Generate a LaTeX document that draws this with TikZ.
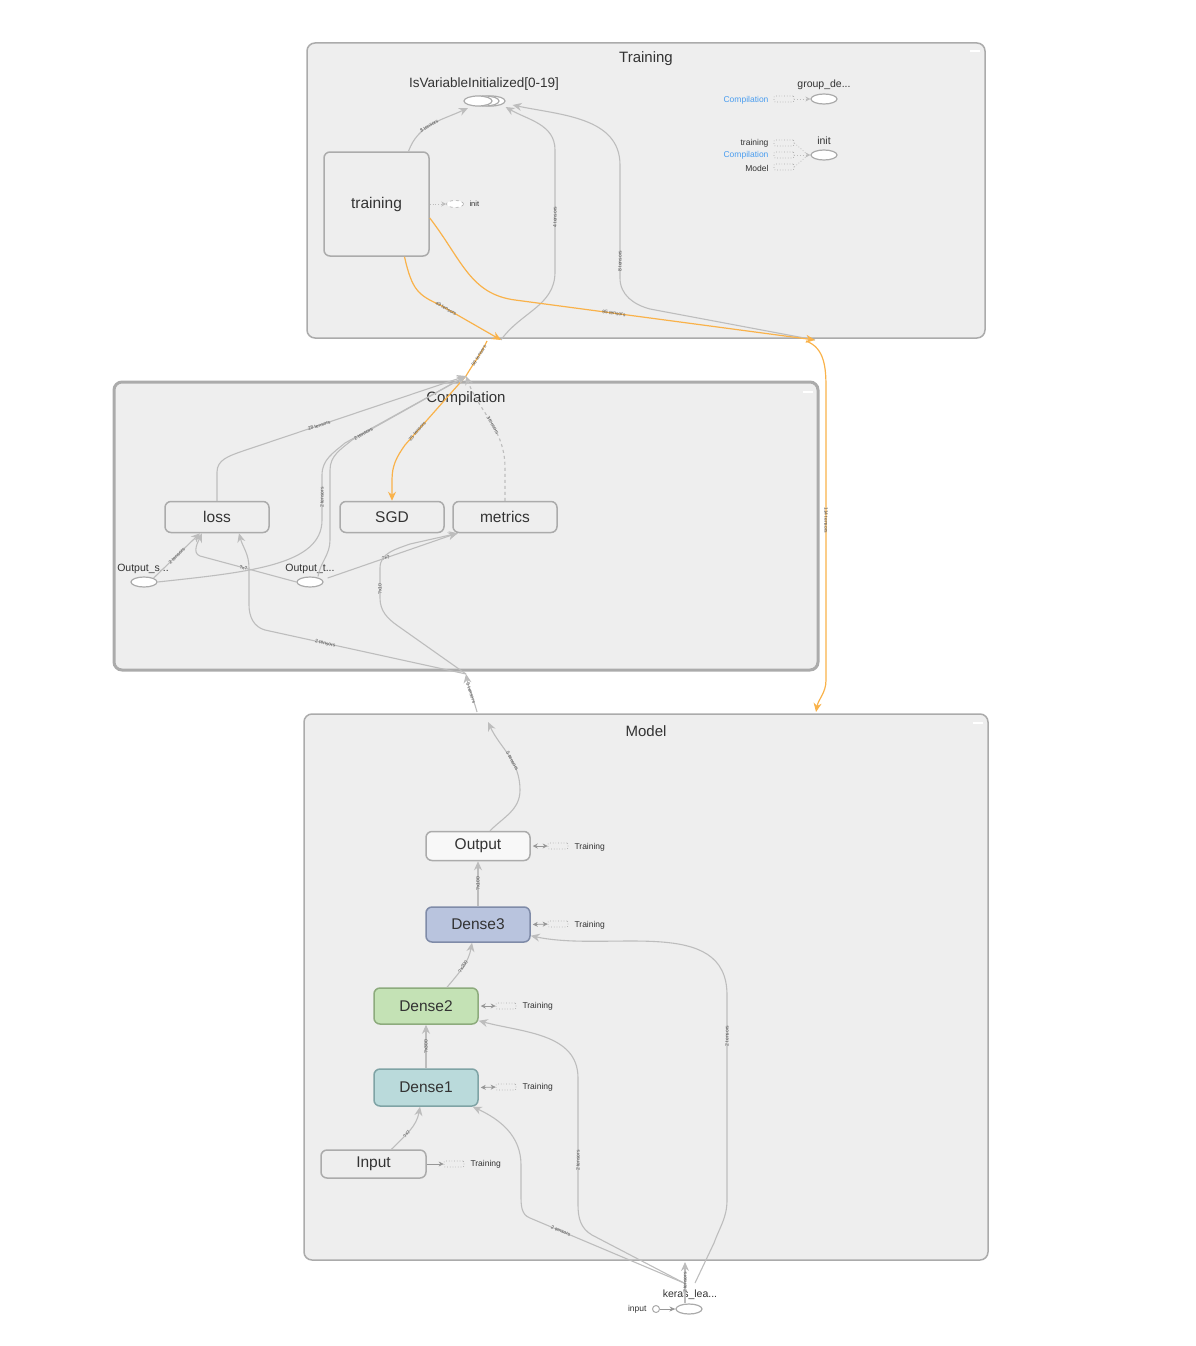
\documentclass[tikz,border=0pt]{standalone}
\usepackage{fontspec}
\setmainfont{Liberation Sans}
\usetikzlibrary{arrows.meta,shapes.geometric}

\definecolor{fondo}{HTML}{EEEEEE}
\definecolor{borde}{HTML}{ABABAB}
\definecolor{gris}{HTML}{BDBDBD}
\definecolor{naranja}{HTML}{F9B24A}
\definecolor{azulref}{HTML}{4A9DEF}
\definecolor{texto}{HTML}{333333}
\definecolor{dtres}{HTML}{B9C4DE}
\definecolor{dtresB}{HTML}{7F8BA8}
\definecolor{ddos}{HTML}{C4E2B5}
\definecolor{ddosB}{HTML}{8DAB7D}
\definecolor{duno}{HTML}{BADADB}
\definecolor{dunoB}{HTML}{7FA3A5}

\tikzset{
  grupo/.style={draw=borde, fill=fondo, line width=1.5pt, rounded corners=8pt},
  titulo/.style={font=\fontsize{15}{18}\selectfont, text=texto},
  capa/.style={draw=borde, fill=fondo, line width=1.5pt, rounded corners=6pt,
    minimum width=104pt, minimum height=31pt, inner sep=0pt,
    font=\fontsize{15.5}{18}\selectfont, text=texto},
  op/.style={ellipse, draw=borde, fill=white, line width=1.2pt,
    minimum width=26pt, minimum height=10pt, inner sep=0pt},
  refbox/.style={draw=borde, dotted, line width=0.7pt, rounded corners=1pt,
    minimum width=20pt, minimum height=6pt, inner sep=0pt},
  arista/.style={draw=gris, line width=1.1pt},
  flecha/.style={arista, -{Stealth[length=9pt,width=8pt]}},
  flechaN/.style={draw=naranja, line width=1.2pt, -{Stealth[length=9pt,width=8pt]}},
  flechaR/.style={draw=gris!80!black, line width=0.8pt, {Stealth[length=5pt,width=5pt]}-{Stealth[length=5pt,width=5pt]}},
  punteada/.style={draw=gris, line width=0.8pt, dotted, -{Stealth[length=5pt,width=5pt]}},
  etiq/.style={font=\fontsize{5}{6}\selectfont, text=texto!85, inner sep=0.3pt},
  chico/.style={font=\fontsize{8.5}{10}\selectfont, text=texto},
  nombre/.style={font=\fontsize{10.5}{12}\selectfont, text=texto},
}

\begin{document}
\begin{tikzpicture}[x=1pt,y=-1pt]

    \useasboundingbox (0,0) rectangle (1196,1346);

    % Grupo Training
    \draw[grupo] (307,43) rectangle (985,338);
    \node[titulo] (tTraining) at (646,59) {Training};
    \draw[white, line width=1.5pt] (970,51) -- (980,51);

    \node[capa, minimum width=105pt, minimum height=104pt] (training) at (376.5,204) {training};
    \node[font=\fontsize{13.5}{16}\selectfont, text=texto] (tVar) at (484,84) {IsVariableInitialized[0-19]};
    \node[op, minimum width=28pt] (var3) at (491,101) {};
    \node[op, minimum width=28pt] (var2) at (485,101) {};
    \node[op, minimum width=28pt] (var) at (478,101) {};

    % init punteado
    \node[op, dashed, fill=white, line width=0.6pt, minimum width=17pt, minimum height=7pt] (initA) at (455,204) {};
    \node[font=\fontsize{7.5}{9}\selectfont, text=texto, anchor=west] (tInitA) at (466,204) {init};
    \draw[punteada] (training.east) -- (initA.west);

    % group_de...
    \node[op] (grupoDe) at (824,99) {};
    \node[nombre] (tGrupoDe) at (824,85) {group\_de...};
    \node[refbox] (refC1) at (784,99) {};
    \node[chico, text=azulref, anchor=east] (tC1) at (772,100) {Compilation};
    \draw[punteada] (refC1.east) -- (grupoDe.west);

    % init
    \node[op] (initB) at (824,155) {};
    \node[nombre] (tInitB) at (824,141) {init};
    \node[refbox] (refT) at (784,143) {};
    \node[refbox] (refC2) at (784,155) {};
    \node[refbox] (refM) at (784,167) {};
    \node[chico, anchor=east] (tT) at (772,143) {training};
    \node[chico, text=azulref, anchor=east] (tC2) at (772,155) {Compilation};
    \node[chico, anchor=east] (tM) at (772,168) {Model};
    \coordinate (jInit) at (808,155);
    \draw[gris, line width=0.8pt, dotted] (refT.east) -- (jInit);
    \draw[gris, line width=0.8pt, dotted] (refM.east) -- (jInit);
    \draw[punteada] (refC2.east) -- (initB.west);

    % Grupo Compilation
    \draw[grupo, line width=3pt] (114,382) rectangle (818,670);
    \node[titulo] (tCompilation) at (466,399) {Compilation};
    \draw[white, line width=1.5pt] (803,392) -- (813,392);

    \node[capa] (loss) at (217,517) {loss};
    \node[capa] (sgd) at (392,517) {SGD};
    \node[capa] (metrics) at (505,517) {metrics};
    \node[op] (outS) at (144,582) {};
    \node[nombre] (tOutS) at (143,569) {Output\_s...};
    \node[op] (outT) at (310,582) {};
    \node[nombre] (tOutT) at (310,569) {Output\_t...};

    % Grupo Model
    \draw[grupo] (304,714) rectangle (988,1260);
    \node[titulo] (tModel) at (646,731) {Model};
    \draw[white, line width=1.5pt] (973,723) -- (983,723);

    \node[capa, fill=white!60!fondo, minimum height=29pt] (output) at (478,846) {Output};
    \node[capa, fill=dtres, draw=dtresB, minimum height=35pt] (dense3) at (478,924.5) {Dense3};
    \node[capa, fill=ddos, draw=ddosB, minimum height=36pt] (dense2) at (426,1006) {Dense2};
    \node[capa, fill=duno, draw=dunoB, minimum height=37pt] (dense1) at (426,1087.5) {Dense1};
    \node[capa, minimum width=105pt, minimum height=28pt] (input) at (373.5,1164) {Input};

    % referencias a Training
    \node[refbox] (rOutput) at (558,846) {};
    \node[refbox] (rDense3) at (558,924) {};
    \node[refbox] (rDense2) at (506,1006) {};
    \node[refbox] (rDense1) at (506,1087) {};
    \node[refbox] (rInput) at (454,1164) {};
    \draw[flechaR] ([xshift=2pt]output.east) -- (rOutput.west);
    \draw[flechaR] ([xshift=2pt]dense3.east) -- (rDense3.west);
    \draw[flechaR] ([xshift=2pt]dense2.east) -- (rDense2.west);
    \draw[flechaR] ([xshift=2pt]dense1.east) -- (rDense1.west);
    \draw[gris!80!black, line width=0.8pt, -{Stealth[length=5pt,width=5pt]}] (input.east) -- (rInput.west);
    \node[chico, anchor=west] (tROutput) at (571,847) {Training};
    \node[chico, anchor=west] (tRDense3) at (571,925) {Training};
    \node[chico, anchor=west] (tRDense2) at (519,1006) {Training};
    \node[chico, anchor=west] (tRDense1) at (519,1087) {Training};
    \node[chico, anchor=west] (tRInput) at (467,1164) {Training};

    % keras_learning_phase
    \node[op] (keras) at (689,1309) {};
    \node[nombre] (tKeras) at (690,1295) {keras\_lea...};
    \node[circle, draw=borde, fill=white, line width=1pt, minimum size=7pt, inner sep=0pt] (inputPh) at (656,1309) {};
    \node[chico, anchor=east] (tInputPh) at (650,1309) {input};
    \draw[gris!80!black, line width=1pt, -{Stealth[length=6pt,width=5pt]}] (inputPh.east) -- (keras.west);

    % puntos de paso entre grupos
    \coordinate (trBotA) at (501,340);
    \coordinate (trBotB) at (815,340);
    \coordinate (cpTop) at (466,376);
    \coordinate (cpBot) at (466,674);
    \coordinate (mdTop) at (488,722);
    \coordinate (mdTopB) at (816,712);
    \coordinate (kJoin) at (684,1283);
    \coordinate (kJoinB) at (695,1283);

    % aristas en Training
    \draw[flecha] ([xshift=32pt]training.north) to[out=70,in=205] node[etiq, sloped, pos=0.45] {8 tensors} ([xshift=-10pt,yshift=-7pt]var.center);
    \draw[flecha] (trBotA) to[out=55,in=-90] (555,272) -- node[etiq, sloped, pos=0.45] {4 tensors} (555,150) to[out=90,in=-30] ([yshift=-6pt]var3.east);
    \draw[flecha] (trBotB) -- (650,309) to[out=165,in=-90] (620,278) -- node[etiq, sloped, pos=0.15] {8 tensors} (620,165) to[out=90,in=-12] ([xshift=7pt,yshift=-4pt]var3.east);
    \draw[flechaN] ([xshift=28pt]training.south) .. controls (412,290) and (418,295) .. (440,305) -- node[etiq, sloped, pos=0.1] {49 tensors} (trBotA);
    \draw[flechaN] ([yshift=-14pt]training.east) .. controls (462,260) and (470,294) .. (515,300) -- node[etiq, sloped, pos=0.33] {95 tensors} (trBotB);

    % aristas entre grupos
    \draw[flechaN] (487,341) to[out=-115,in=60] node[etiq, sloped, pos=0.4] {59 tensors} (cpTop) -- node[etiq, sloped, pos=0.8] {25 tensors} (405,445) to[out=-125,in=90] (392,480) -- (sgd.north);
    \draw[flechaN] (806,341) to[out=-20,in=90] (826,390) -- node[etiq, sloped, pos=0.45] {114 tensors} (826,680) to[out=-90,in=80] (mdTopB);
    \draw[flecha] (477,712) to[out=105,in=-80] node[etiq, sloped, pos=0.5] {5 tensors} (cpBot);

    % aristas en Compilation
    \draw[flecha] (loss.north) -- (217,472) to[out=90,in=200] (240,452) -- node[etiq, sloped, pos=0.35] {28 tensors} (cpTop);
    \draw[flecha] (outS.north east) -- node[etiq, sloped, pos=0.5] {2 tensors} ([xshift=-17pt]loss.south);
    \draw[flecha] (outS.east) .. controls (250,572) and (322,565) .. (322,520) -- node[etiq, sloped, pos=0.5] {2 tensors} (322,475) to[out=90,in=-140] (345,443) -- (cpTop);
    \draw[flecha] ([xshift=8pt]outT.north) to[out=80,in=-90] (330,540) -- (330,470) to[out=90,in=-140] (352,440) -- node[etiq, sloped, pos=0.1] {2 tensors} (cpTop);
    \draw[flecha] (outT.west) -- node[etiq, sloped, pos=0.55] {?x?} (200,556) to[out=160,in=-115] ([xshift=-15pt]loss.south);
    \draw[flecha] ([xshift=8pt]outT.north east) -- node[etiq, sloped, pos=0.45] {?x?} ([xshift=-48pt]metrics.south);
    \draw[flecha] (cpBot) -- node[etiq, sloped, pos=0.7] {2 tensors} (265,630) to[out=165,in=-90] (249,605) -- (249,568) to[out=90,in=-75] ([xshift=22pt]loss.south);
    \draw[flecha] (cpBot) -- (398,626) to[out=145,in=-90] (380,598) -- node[etiq, sloped, pos=0.3] {?x10} (380,568) to[out=90,in=-160] (410,544) -- ([xshift=-47pt]metrics.south);
    \draw[arista, dashed, -{Stealth[length=9pt,width=8pt]}] (metrics.north) -- (505,468) to[out=90,in=-70] node[etiq, sloped, pos=0.45] {3 tensors} (cpTop);

    % aristas en Model
    \draw[flecha] ([xshift=12pt]output.north) to[out=45,in=-90] (520,790) to[out=90,in=-65] node[etiq, sloped, pos=0.4] {5 tensors} (mdTop);
    \draw[flecha] (dense3.north) -- node[etiq, sloped, pos=0.5] {?x100} (output.south);
    \draw[flecha] ([xshift=21pt]dense2.north) to[out=50,in=-100] node[etiq, sloped, pos=0.5] {?x200} ([xshift=-6pt]dense3.south);
    \draw[flecha] (dense1.north) -- node[etiq, sloped, pos=0.5] {?x300} (dense2.south);
    \draw[flecha] ([xshift=18pt]input.north) to[out=45,in=-100] node[etiq, sloped, pos=0.4] {?x7} ([xshift=-6pt]dense1.south);

    % aristas desde keras_lea...
    \draw[flecha] ([xshift=-4pt]keras.north) -- node[etiq, sloped, pos=0.5] {2 tensors} (685,1262);
    \draw[flecha] (kJoin) -- node[etiq, sloped, pos=0.8] {2 tensors} (530,1218) to[out=160,in=-90] (521,1195) -- (521,1165) to[out=90,in=-25] ([xshift=-6pt]dense1.south east);
    \draw[flecha] (kJoin) -- (592,1235) to[out=150,in=-90] (578,1205) -- node[etiq, sloped, pos=0.35] {2 tensors} (578,1078) to[out=90,in=-15] ([yshift=4pt]dense2.south east);
    \draw[flecha] (kJoinB) -- (714,1243) to[out=70,in=-90] (727,1200) -- node[etiq, sloped, pos=0.8] {2 tensors} (727,995) to[out=90,in=-12] ([yshift=7pt]dense3.south east);

\end{tikzpicture}
\end{document}
